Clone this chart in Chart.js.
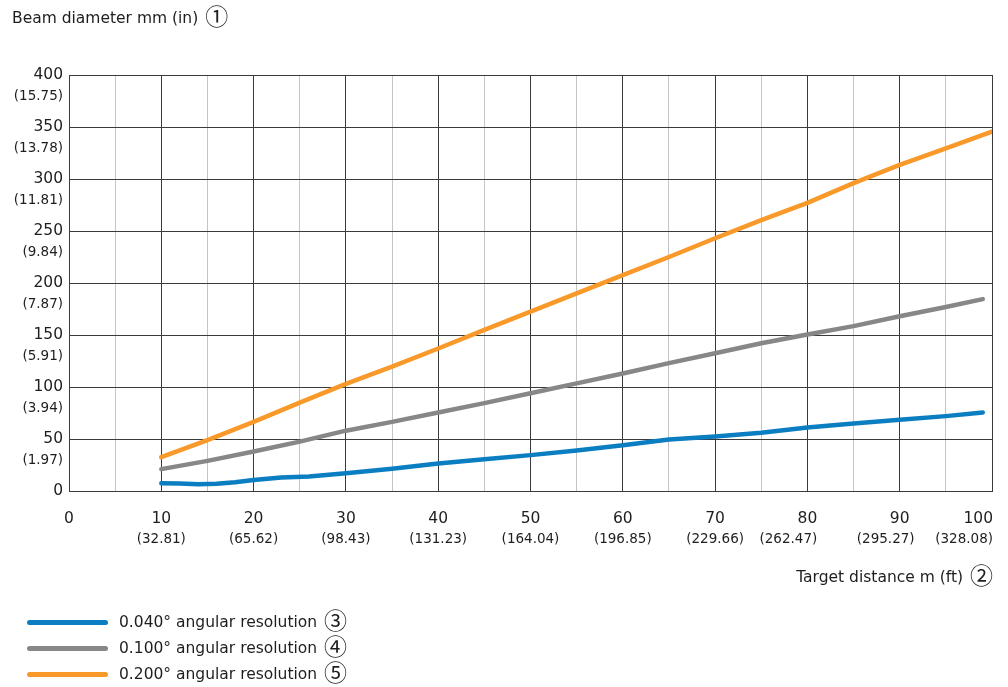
<!DOCTYPE html>
<html>
<head>
<meta charset="utf-8">
<script src="https://cdn.jsdelivr.net/npm/chart.js@4/dist/chart.umd.min.js"></script>
<style>
  html, body { margin: 0; padding: 0; background: #ffffff; }
  body { width: 1008px; height: 687px; position: relative; overflow: hidden;
         font-family: "DejaVu Sans", sans-serif; color: #1e1e1e; }
  #chart { position: absolute; left: 0; top: 0; }
  .txt { position: absolute; white-space: nowrap; font-size: 15.5px; line-height: 22px; }
  .circ { font-family: "Noto Sans CJK JP", "DejaVu Sans", sans-serif; font-size: 23px; line-height: 22px;
          display: inline-block; vertical-align: top; margin-left: 2px; position: relative; top: -3px; }
  .key { position: absolute; left: 27px; width: 81px; height: 4.5px; border-radius: 3px; }
</style>
</head>
<body>
<canvas id="chart" width="1008" height="687"></canvas>

<div class="txt" style="left:12px; top:7px;">Beam diameter mm (in) <span class="circ">①</span></div>
<div class="txt" style="right:15px; top:566px;">Target distance m (ft) <span class="circ">②</span></div>

<div class="key" style="top:620px; background:#0b7ec2;"></div>
<div class="txt" style="left:119px; top:611px;">0.040° angular resolution <span class="circ">③</span></div>
<div class="key" style="top:646px; background:#878787;"></div>
<div class="txt" style="left:119px; top:637px;">0.100° angular resolution <span class="circ">④</span></div>
<div class="key" style="top:672px; background:#f8992a;"></div>
<div class="txt" style="left:119px; top:663px;">0.200° angular resolution <span class="circ">⑤</span></div>

<script>
// Beam diameter (mm) against target distance (m) for three angular resolutions
const distBlue = [10, 12, 14, 16, 18, 20, 23, 26, 30, 35, 40, 45, 50, 55, 60, 65, 70, 75, 80, 85, 90, 95, 99];
const beamBlue = [7.5, 7.2, 6.6, 7, 8.5, 10.5, 13, 14, 17, 21.5, 26.5, 30.5, 34.5, 39, 44, 49.5, 52.5, 56, 61, 65, 68.5, 72, 75.5];

const distGray = [10, 15, 20, 25, 30, 35, 40, 45, 50, 55, 60, 65, 70, 75, 80, 85, 90, 95, 99];
const beamGray = [21, 29, 38, 47.5, 58, 66.5, 75.5, 84.5, 94, 103.5, 113, 123, 132.5, 142, 150.5, 158.5, 168, 177, 184.5];

const distOrange = [10, 15, 20, 25, 30, 35, 40, 45, 50, 55, 60, 65, 70, 75, 80, 85, 90, 95, 100];
const beamOrange = [32.5, 49, 66.5, 85, 103, 119.5, 137, 155, 172.5, 190, 207.5, 225, 243, 260.5, 277, 296, 313.5, 329.5, 345.5];

// Axis tick labels: metric value with imperial value underneath
const yTicks = [0, 50, 100, 150, 200, 250, 300, 350, 400];
const yTickInches = ['', '(1.97)', '(3.94)', '(5.91)', '(7.87)', '(9.84)', '(11.81)', '(13.78)', '(15.75)'];
const xTicks = [0, 10, 20, 30, 40, 50, 60, 70, 80, 90, 100];
const xTickFeet = ['', '(32.81)', '(65.62)', '(98.43)', '(131.23)', '(164.04)', '(196.85)', '(229.66)', '(262.47)', '(295.27)', '(328.08)'];

const TEXT = '#1e1e1e';
const GRID_DARK = '#3a3a3a';
const GRID_LIGHT = '#c4c4c4';
const MAIN_FONT = '15.5px "DejaVu Sans"';
const SUB_FONT = '13.5px "DejaVu Sans"';
// small horizontal nudges that keep the crowded feet labels apart
const feetNudge = { 80: -19, 90: -14 };

function toPoints(xs, ys) { return xs.map((x, i) => ({ x: x, y: ys[i] })); }

const unitLabels = {
  id: 'unitLabels',
  afterDraw(chart) {
    const { ctx } = chart;
    const xs = chart.scales.x, ys = chart.scales.y;
    ctx.save();
    ctx.fillStyle = TEXT;
    ctx.textBaseline = 'middle';

    // inch values under the mm tick labels
    ctx.font = SUB_FONT;
    ctx.textAlign = 'right';
    yTicks.forEach((v, i) => {
      if (yTickInches[i]) ctx.fillText(yTickInches[i], ys.right - 6, ys.getPixelForValue(v) + 21);
    });

    // distance labels in metres, feet underneath
    xTicks.forEach((v, i) => {
      const last = i === xTicks.length - 1;
      const px = xs.getPixelForValue(v);
      ctx.textAlign = last ? 'right' : 'center';
      ctx.font = MAIN_FONT;
      ctx.fillText(String(v), last ? px + 1 : px, xs.top + 28);
      if (xTickFeet[i]) {
        ctx.font = SUB_FONT;
        const nx = last ? px + 1 : px + (feetNudge[v] || 0);
        ctx.fillText(xTickFeet[i], nx, xs.top + 48);
      }
    });
    ctx.restore();
  }
};

const lineStyle = {
  borderWidth: 4.5,
  borderCapStyle: 'round',
  borderJoinStyle: 'round',
  pointRadius: 0,
  fill: false,
  tension: 0
};

new Chart(document.getElementById('chart'), {
  type: 'line',
  data: {
    datasets: [
      Object.assign({ label: '0.040° angular resolution', data: toPoints(distBlue, beamBlue), borderColor: '#0b7ec2' }, lineStyle),
      Object.assign({ label: '0.100° angular resolution', data: toPoints(distGray, beamGray), borderColor: '#878787' }, lineStyle),
      Object.assign({ label: '0.200° angular resolution', data: toPoints(distOrange, beamOrange), borderColor: '#f8992a' }, lineStyle)
    ]
  },
  options: {
    responsive: false,
    animation: false,
    devicePixelRatio: 1,
    layout: { padding: { top: 75, right: 16, bottom: 196, left: 0 } },
    plugins: { legend: { display: false }, tooltip: { enabled: false } },
    scales: {
      x: {
        type: 'linear',
        min: 0, max: 100,
        ticks: { stepSize: 5, display: false },
        grid: {
          drawTicks: false,
          lineWidth: 1,
          color: (c) => (c.tick && c.tick.value % 10 === 0) ? GRID_DARK : GRID_LIGHT
        },
        border: { color: GRID_DARK, width: 1 }
      },
      y: {
        type: 'linear',
        min: 0, max: 400,
        afterFit: (scale) => { scale.width = 69; },
        ticks: {
          stepSize: 50,
          padding: 6,
          color: TEXT,
          font: { family: 'DejaVu Sans', size: 15.5 }
        },
        grid: { drawTicks: false, lineWidth: 1, color: GRID_DARK },
        border: { color: GRID_DARK, width: 1 }
      }
    }
  },
  plugins: [unitLabels]
});
</script>
</body>
</html>
